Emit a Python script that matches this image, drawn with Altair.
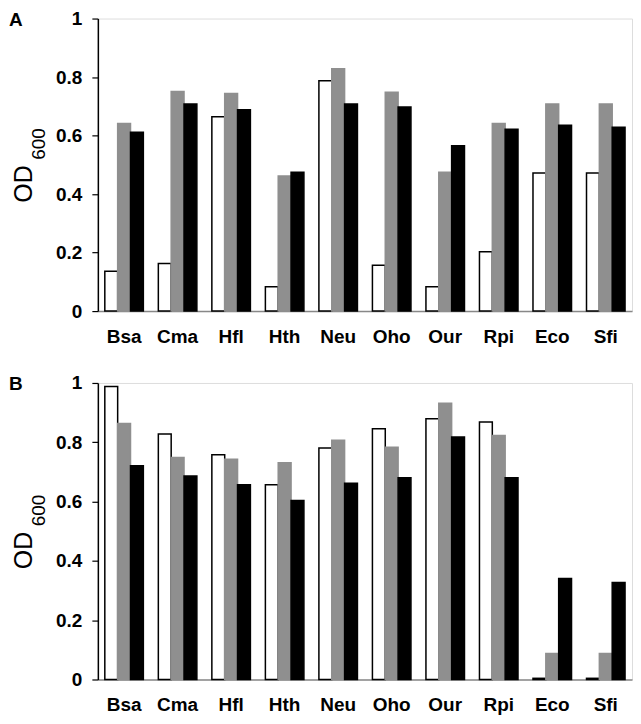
import altair as alt
import pandas as pd

strains = ["Bsa", "Cma", "Hfl", "Hth", "Neu", "Oho", "Our", "Rpi", "Eco", "Sfi"]
series = ["white", "gray", "black"]

# Panel A values
a_white = [0.136, 0.163, 0.664, 0.083, 0.787, 0.157, 0.083, 0.203, 0.472, 0.472]
a_gray = [0.641, 0.751, 0.744, 0.462, 0.828, 0.748, 0.475, 0.641, 0.708, 0.708]
a_black = [0.611, 0.708, 0.688, 0.475, 0.708, 0.698, 0.565, 0.622, 0.635, 0.628]

# Panel B values
b_white = [0.988, 0.828, 0.758, 0.657, 0.781, 0.846, 0.879, 0.868, 0.004, 0.004]
b_gray = [0.863, 0.749, 0.743, 0.731, 0.807, 0.783, 0.932, 0.823, 0.088, 0.088]
b_black = [0.721, 0.686, 0.657, 0.604, 0.662, 0.680, 0.818, 0.680, 0.341, 0.327]

y_ticks = [0, 0.2, 0.4, 0.6, 0.8, 1]

FONT = "Liberation Sans"
GRAY = "#8f8f8f"
W = 535


def make_df(w, g, b):
    rows = []
    for i, s in enumerate(strains):
        rows.append({"strain": s, "series": "white", "od": w[i]})
        rows.append({"strain": s, "series": "gray", "od": g[i]})
        rows.append({"strain": s, "series": "black", "od": b[i]})
    return pd.DataFrame(rows)


def panel(df, letter, H):
    bars = alt.Chart(df).mark_bar(strokeWidth=1.5).encode(
        x=alt.X(
            "strain:N",
            sort=strains,
            scale=alt.Scale(paddingInner=0.28, paddingOuter=0.13),
            axis=alt.Axis(
                title=None,
                labelAngle=0,
                ticks=False,
                labelPadding=16,
                labelFont=FONT,
                labelFontSize=19,
                labelFontWeight="bold",
                labelColor="black",
                domainColor="#888888",
                domainWidth=1.5,
            ),
        ),
        xOffset=alt.XOffset(
            "series:N", sort=series, scale=alt.Scale(paddingInner=0, paddingOuter=0)
        ),
        y=alt.Y(
            "od:Q",
            scale=alt.Scale(domain=[0, 1], nice=False),
            axis=alt.Axis(
                title=None,
                values=y_ticks,
                format="~g",
                grid=False,
                tickSize=6,
                tickColor="black",
                tickWidth=1.2,
                labelPadding=10,
                labelFont=FONT,
                labelFontSize=19,
                labelFontWeight="bold",
                labelColor="black",
                domainColor="black",
                domainWidth=1.5,
            ),
        ),
        fill=alt.Fill(
            "series:N",
            scale=alt.Scale(domain=series, range=["white", GRAY, "black"]),
            legend=None,
        ),
        stroke=alt.Stroke(
            "series:N",
            scale=alt.Scale(domain=series, range=["black", GRAY, "black"]),
            legend=None,
        ),
    )
    mid = H / 2
    od = alt.Chart(pd.DataFrame({"t": ["OD"]})).mark_text(
        font=FONT, fontSize=25, angle=270, align="left", baseline="alphabetic", color="black"
    ).encode(x=alt.value(-66), y=alt.value(mid + 38), text="t:N")
    sub = alt.Chart(pd.DataFrame({"t": ["600"]})).mark_text(
        font=FONT, fontSize=19, angle=270, align="left", baseline="alphabetic", color="black"
    ).encode(x=alt.value(-53), y=alt.value(mid - 5), text="t:N")
    lab = alt.Chart(pd.DataFrame({"t": [letter]})).mark_text(
        font=FONT, fontSize=19, fontWeight="bold", align="left", baseline="alphabetic", color="black"
    ).encode(x=alt.value(-89), y=alt.value(7), text="t:N")
    return alt.layer(bars, od, sub, lab).properties(width=W, height=H)


chart = alt.vconcat(
    panel(make_df(a_white, a_gray, a_black), "A", 293),
    panel(make_df(b_white, b_gray, b_black), "B", 297),
    spacing=26,
).properties(
    padding={"left": 0, "top": 0, "right": 0, "bottom": 0}
).configure_view(
    stroke="black", strokeWidth=1.2
).configure(
    font=FONT
)

chart.save("out.html", embed_options={"renderer": "svg", "actions": False})
